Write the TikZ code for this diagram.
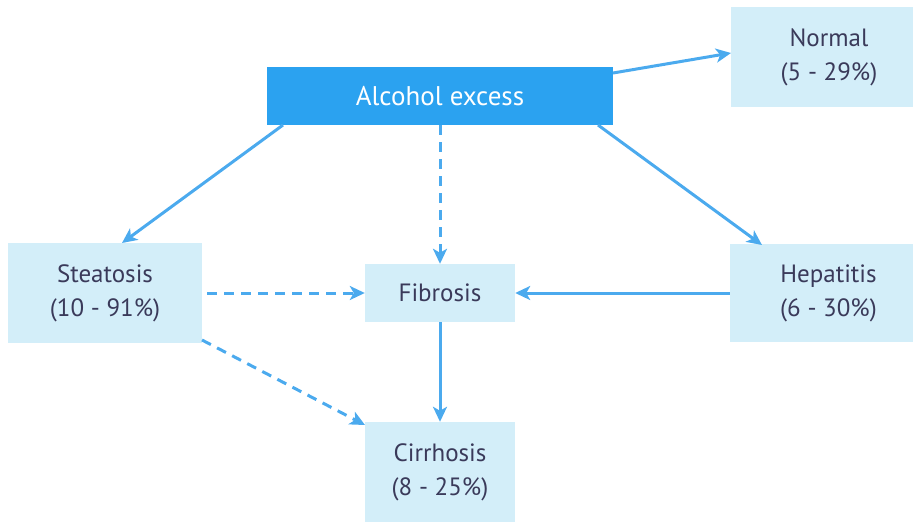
\documentclass[tikz,border=0pt]{standalone}
\usepackage{fontspec}
\setmainfont{PT Sans}
\usetikzlibrary{arrows.meta}
\definecolor{topblue}{HTML}{2BA2F0}
\definecolor{boxfill}{HTML}{D3EEF9}
\definecolor{arrowblue}{HTML}{4BAAEE}
\definecolor{textcol}{HTML}{3A3A5A}
\begin{document}
\begin{tikzpicture}[x=1pt,y=-1pt,
  lbox/.style={fill=boxfill,draw=none,inner sep=0pt,align=center,text=textcol,font=\fontsize{25}{34}\selectfont},
  conn/.style={draw=arrowblue,line width=3pt,-{Stealth[length=15pt,width=14pt,inset=4pt]}},
  dconn/.style={conn,dash pattern=on 10pt off 7pt}]
\useasboundingbox (0,0) rectangle (913,522);
\node[fill=topblue,minimum width=346pt,minimum height=58pt,inner sep=0pt,text=white,font=\fontsize{27}{30}\selectfont] (alc) at (440,96) {Alcohol excess};
\node[lbox,minimum width=182pt,minimum height=100pt] (nor) at (822,57) {\hspace*{14pt}Normal\\\hspace*{14pt}(5 - 29\%)};
\node[lbox,minimum width=194pt,minimum height=100pt] (ste) at (105,293) {Steatosis\\(10 - 91\%)};
\node[lbox,minimum width=150pt,minimum height=58pt] (fib) at (440,293) {Fibrosis};
\node[lbox,minimum width=183pt,minimum height=98pt] (hep) at (821.5,293) {\hspace*{14pt}Hepatitis\\\hspace*{14pt}(6 - 30\%)};
\node[lbox,minimum width=150pt,minimum height=100pt] (cir) at (440,472) {Cirrhosis\\(8 - 25\%)};
\coordinate (a1) at (613,73);
\coordinate (n1) at (731,53);
\draw[conn] (a1) -- (n1);
\coordinate (a2) at (283,125);
\coordinate (s1) at (122,243);
\draw[conn] (a2) -- (s1);
\coordinate (a3) at (598,125);
\coordinate (h1) at (762,245);
\draw[conn] (a3) -- (h1);
\draw[dconn] (alc.south) -- (fib.north);
\draw[conn] (hep.west) -- (fib.east);
\coordinate (s2) at (207,293);
\draw[dconn] (s2) -- (fib.west);
\coordinate (s3) at (202,340);
\coordinate (c1) at (365,425);
\draw[dconn] (s3) -- (c1);
\draw[conn] (fib.south) -- (cir.north);
\end{tikzpicture}
\end{document}
